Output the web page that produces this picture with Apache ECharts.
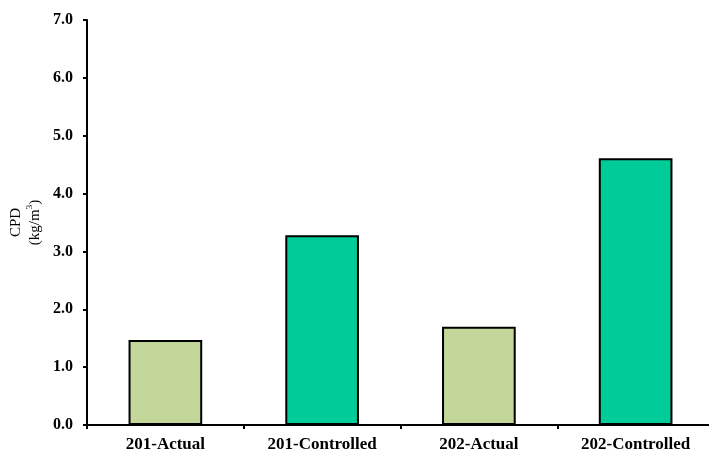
<!DOCTYPE html>
<html>
<head>
<meta charset="utf-8">
<script src="https://cdn.jsdelivr.net/npm/echarts@6/dist/echarts.min.js"></script>
<style>
  html, body { margin: 0; padding: 0; background: #fff; }
  #chart { width: 709px; height: 450px; }
</style>
</head>
<body>
<div id="chart"></div>
<script>
// CPD per test case
const categories = ['201-Actual', '201-Controlled', '202-Actual', '202-Controlled'];
const cpdValues = [1.47, 3.28, 1.70, 4.61];
const barColors = ['#c4d79b', '#00cc99', '#c4d79b', '#00cc99'];
const yTicks = { min: 0, max: 7, interval: 1 };

const serif = '"Liberation Serif", "DejaVu Serif", serif';

const chart = echarts.init(document.getElementById('chart'));
chart.setOption({
  animation: false,
  // plot area runs slightly past the right edge of the canvas
  grid: { left: 87, right: -5, top: 20, bottom: 25, outerBoundsMode: 'none', containLabel: false },
  xAxis: {
    type: 'category',
    data: categories,
    axisLine: { show: true, onZero: false, lineStyle: { color: '#000', width: 2 } },
    axisTick: { show: true, length: 4, lineStyle: { color: '#000', width: 2 } },
    axisLabel: {
      color: '#000', fontFamily: serif, fontWeight: 'bold', fontSize: 17, margin: 11
    }
  },
  yAxis: {
    type: 'value',
    min: yTicks.min, max: yTicks.max, interval: yTicks.interval,
    axisLine: { show: true, lineStyle: { color: '#000', width: 2 } },
    axisTick: { show: true, length: 4, lineStyle: { color: '#000', width: 2 } },
    splitLine: { show: false },
    axisLabel: {
      color: '#000', fontFamily: serif, fontWeight: 'bold', fontSize: 16, margin: 14,
      formatter: v => v.toFixed(1)
    },
    name: '{a|CPD}\n{a|(kg/m}{sup|3}{a|)}',
    nameLocation: 'middle',
    nameGap: 35,
    nameRotate: 90,
    nameTextStyle: {
      align: 'center',
      rich: {
        a: { fontFamily: serif, fontSize: 15, color: '#000', lineHeight: 19 },
        sup: { fontFamily: serif, fontSize: 9, color: '#000', verticalAlign: 'top', lineHeight: 19, padding: [0, 0, 6, 0] }
      }
    }
  },
  series: [
    {
      type: 'bar',
      barWidth: '47%',
      data: cpdValues.map((v, i) => ({
        value: v,
        itemStyle: { color: barColors[i] }
      })),
      itemStyle: { borderColor: '#000', borderWidth: 2 }
    }
  ]
});
</script>
</body>
</html>
